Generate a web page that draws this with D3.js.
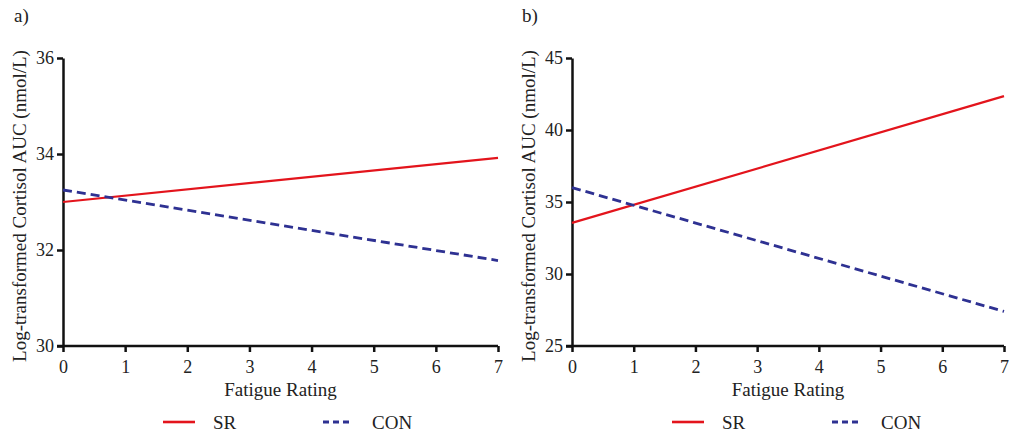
<!DOCTYPE html>
<html>
<head>
<meta charset="utf-8">
<script src="https://cdn.jsdelivr.net/npm/d3@7"></script>
<style>
  body { margin: 0; background: #fff; }
  svg text { font-family: "Liberation Serif", "Tinos", "Times New Roman", "DejaVu Serif", serif; fill: #222; }
</style>
</head>
<body>
<svg id="chart"></svg>
<script>
// data
var fatigue = [0, 7];
var srA = [33.0, 33.92];
var conA = [33.25, 31.78];
var srB = [33.55, 42.35];
var conB = [36.0, 27.4];
var ticksX = [0, 1, 2, 3, 4, 5, 6, 7];
var ticksA = [30, 32, 34, 36];
var ticksB = [25, 30, 35, 40, 45];

var serif = '"Liberation Serif", "Tinos", "Times New Roman", "DejaVu Serif", serif';
var screen = { width: 1011, height: 434 };
var svg = d3.select("#chart").attr("width", screen.width).attr("height", screen.height);

var drawPanel = function (opt) {
  var xScale = d3.scaleLinear().domain([0, 7]).range([opt.left, opt.right]);
  var yScale = d3.scaleLinear().domain(opt.yDomain).range([346, 58]);
  var g = svg.append("g").attr("font-family", serif);

  // axes
  var xAxis = d3.axisBottom(xScale).tickValues(ticksX).tickFormat(d3.format("d"))
    .tickSize(6).tickPadding(8).tickSizeOuter(0);
  var yAxis = d3.axisLeft(yScale).tickValues(opt.yTicks).tickFormat(d3.format("d"))
    .tickSize(6).tickPadding(3).tickSizeOuter(0);

  var gx = g.append("g").attr("transform", "translate(0,346)").call(xAxis);
  var gy = g.append("g").attr("transform", "translate(" + opt.left + ",0)").call(yAxis);
  [gx, gy].forEach(function (ax) {
    ax.attr("font-family", serif);
    ax.select(".domain").attr("stroke", "#111").attr("stroke-width", 2.5);
    ax.selectAll(".tick line").attr("stroke", "#111").attr("stroke-width", 2.5);
    ax.selectAll(".tick text").attr("font-size", 18).attr("fill", "#222");
  });
  // extend x domain line to include corner
  gx.select(".domain").attr("d", "M" + (opt.left - 6) + ",0H" + opt.right);

  // lines
  var line = function (vals) {
    return d3.line()
      .x(function (d, i) { return xScale(fatigue[i]); })
      .y(function (d) { return yScale(d); })(vals);
  };
  g.append("path").attr("d", line(opt.sr)).attr("fill", "none")
    .attr("stroke", "#e3141c").attr("stroke-width", 2.2);
  g.append("path").attr("d", line(opt.con)).attr("fill", "none")
    .attr("stroke", "#2e3192").attr("stroke-width", 2.8).attr("stroke-dasharray", "9,5");

  // labels
  g.append("text").text(opt.tag).attr("x", opt.tagX).attr("y", 22).attr("font-size", 19);
  g.append("text").text("Fatigue Rating")
    .attr("text-anchor", "middle")
    .attr("x", (opt.left + opt.right) / 2)
    .attr("y", 396).attr("font-size", 19);
  g.append("g")
    .attr("transform", "translate(" + opt.yTitleX + ",206)")
    .append("text").text("Log-transformed Cortisol AUC (nmol/L)")
    .attr("text-anchor", "middle")
    .attr("transform", "rotate(-90)")
    .attr("font-size", 19);

  // legend
  var lg = g.append("g").attr("transform", "translate(" + opt.legendX + ",422)");
  lg.append("line").attr("x1", 0).attr("x2", 32).attr("y1", 0).attr("y2", 0)
    .attr("stroke", "#e3141c").attr("stroke-width", 2.6);
  lg.append("text").text("SR").attr("x", 50).attr("y", 7).attr("font-size", 19);
  lg.append("line").attr("x1", 160).attr("x2", 190).attr("y1", 0).attr("y2", 0)
    .attr("stroke", "#2e3192").attr("stroke-width", 2.8).attr("stroke-dasharray", "6,4");
  lg.append("text").text("CON").attr("x", 209).attr("y", 7).attr("font-size", 19);
};

drawPanel({
  tag: "a)", tagX: 14, left: 63, right: 498, yDomain: [30, 36], yTicks: ticksA,
  sr: srA, con: conA, yTitleX: 26, legendX: 163
});
drawPanel({
  tag: "b)", tagX: 522, left: 572, right: 1004, yDomain: [25, 45], yTicks: ticksB,
  sr: srB, con: conB, yTitleX: 535, legendX: 672
});
</script>
</body>
</html>
